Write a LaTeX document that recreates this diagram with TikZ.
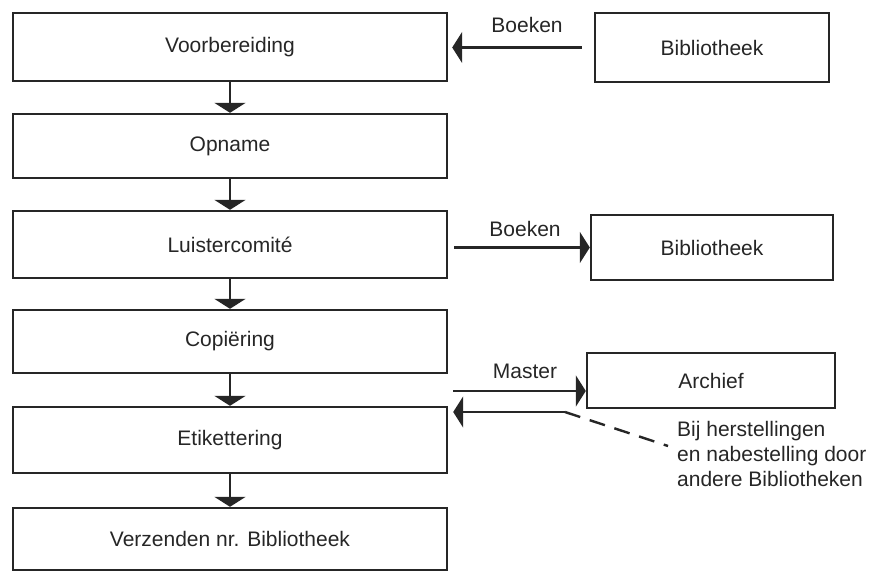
\documentclass[tikz,border=0pt]{standalone}
\usepackage{fontspec}
\setmainfont{Liberation Sans}
\usetikzlibrary{arrows.meta,calc}
\begin{document}
\begin{tikzpicture}[x=1pt,y=-1pt,
  every node/.style={font=\fontsize{21}{25}\selectfont, text=black!85},
  box/.style={draw=black!85, line width=2.4pt, minimum width=434pt, inner sep=0pt},
  rbox/.style={draw=black!85, line width=2.4pt, inner sep=0pt},
  arr/.style={draw=black!85, line width=2.4pt, -{Triangle[width=31pt,length=10pt]}},
  lbl/.style={inner sep=0pt}]
\useasboundingbox (0,0) rectangle (883,573);
% left column
\node[box, minimum height=68pt] (v) at (230,47) {Voorbereiding};
\node[box, minimum height=64pt] (o) at (230,146) {Opname};
\node[box, minimum height=67pt] (l) at (230,244.5) {Luistercomité};
\node[box, minimum height=63pt] (c) at (230,341.5) {Copiëring};
\node[box, minimum height=66pt] (e) at (230,440) {Etikettering};
\node[box, minimum height=62pt] (z) at (230,539) {Verzenden nr. Bibliotheek};
% right column
\node[rbox, minimum width=234pt, minimum height=69pt] (b1) at (712,47.5) {Bibliotheek};
\node[rbox, minimum width=242pt, minimum height=65pt] (b2) at (712,247.5) {Bibliotheek};
\node[rbox, minimum width=248pt, minimum height=55pt] (ar) at (711,380.5) {Archief};
% vertical flow
\draw[arr] (v.south) -- (o.north);
\draw[arr] (o.south) -- (l.north);
\draw[arr] (l.south) -- (c.north);
\draw[arr] (c.south) -- (e.north);
\draw[arr] (e.south) -- (z.north);
% Boeken from library
\draw[arr, shorten <=12pt, shorten >=4pt] (b1.west) -- (b1.west -| v.east);
\node[lbl] (t1) at (527,25) {Boeken};
% Boeken to library
\draw[arr, shorten <=6pt] (b2.west -| l.east) -- (b2.west);
\node[lbl] (t2) at (525,229) {Boeken};
% Master to archive
\coordinate (m1) at (453,391);
\draw[arr] (m1) -- (m1 -| ar.west);
\node[lbl] (t3) at (525,371) {Master};
% return from other libraries
\coordinate (r1) at (565,412);
\coordinate (r2) at (668,446);
\draw[arr, shorten >=5pt] (r1) -- (r1 -| e.east);
\draw[draw=black!85, line width=2.4pt, dash pattern=on 16pt off 10pt] (r1) -- (r2);
\node[lbl, anchor=north west, align=left] (note) at (677,421)
  {Bij herstellingen\\en nabestelling door\\andere Bibliotheken};
\end{tikzpicture}
\end{document}
